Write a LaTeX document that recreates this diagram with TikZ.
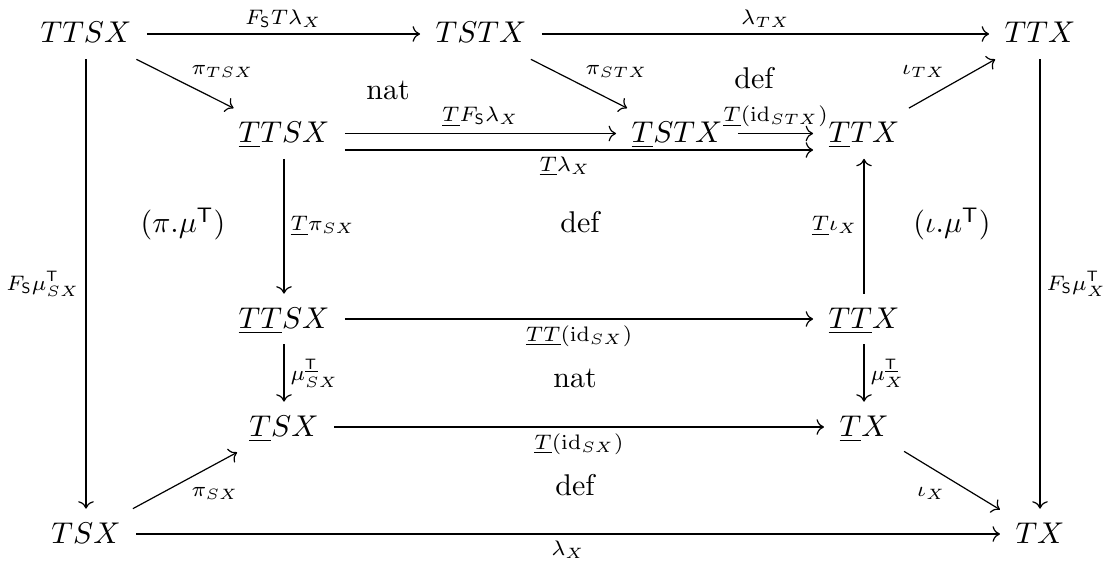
\documentclass[tikz,border=0pt]{standalone}
\usepackage{amsmath}
\usetikzlibrary{arrows.meta}
\begin{document}
\begin{tikzpicture}[x=0.33333pt,y=-0.33333pt,
  obj/.style={anchor=base,inner xsep=5pt,inner ysep=2.75pt,text height=8.5pt,text depth=2.5pt},
  ar/.style={draw,line width=0.4pt,-{Computer Modern Rightarrow}},
  lab/.style={inner sep=2pt},
  txt/.style={inner sep=0pt}
]
\useasboundingbox (0,0) rectangle (1116,568);
% objects
\node[obj] (TTSX) at (86,43) {$TTSX$};
\node[obj] (TSTX) at (481,43) {$TSTX$};
\node[obj] (TTX) at (1040,43) {$TTX$};
\node[obj] (uTTSX) at (284,142.5) {$\underline{T}TSX$};
\node[obj] (uTSTX) at (677,142.5) {$\underline{T}STX$};
\node[obj] (uTTX) at (864,142.5) {$\underline{T}TX$};
\node[obj] (uuTTSX) at (284,328) {$\underline{TT}SX$};
\node[obj] (uuTTX) at (864,328) {$\underline{TT}X$};
\node[obj] (uTSX) at (284,436) {$\underline{T}SX$};
\node[obj] (uTX) at (864,436) {$\underline{T}X$};
\node[obj] (TSX) at (86,543) {$TSX$};
\node[obj] (TX) at (1040,543) {$TX$};
% cell texts
\node[txt] (nat1) at (388,90) {nat};
\node[txt] (def1) at (754,78) {def};
\node[txt] (pimu) at (183,224) {$(\pi.\mu^{\mathsf{T}})$};
\node[txt] (def2) at (580,222) {def};
\node[txt] (iotamu) at (952,224) {$(\iota.\mu^{\mathsf{T}})$};
\node[txt] (nat2) at (575,378) {nat};
\node[txt] (def3) at (575,485) {def};
% arrows
\draw[ar] (TTSX) -- node[lab,above]{$\scriptstyle F_{\mathsf{S}}T\lambda_X$} (TSTX);
\draw[ar] (TSTX) -- node[lab,above]{$\scriptstyle \lambda_{TX}$} (TTX);
\draw[ar] (TTSX) -- node[lab,above right]{$\scriptstyle\pi_{TSX}$} (uTTSX);
\draw[ar] (TSTX) -- node[lab,above right]{$\scriptstyle\pi_{STX}$} (uTSTX);
\draw[ar] (uTTX) -- node[lab,above left]{$\scriptstyle\iota_{TX}$} (TTX);
\draw[ar] (uTTSX) -- node[lab,above]{$\scriptstyle\underline{T}F_{\mathsf{S}}\lambda_X$} (uTSTX);
\draw[ar] (uTSTX) -- node[lab,above]{$\scriptstyle\underline{T}(\mathrm{id}_{STX})$} (uTTX);
\draw[ar] ([yshift=-5.5pt]uTTSX.east) -- node[lab,below,pos=0.47]{$\scriptstyle\underline{T}\lambda_X$} ([yshift=-5.5pt]uTTX.west);
\draw[ar] (TTSX) -- node[lab,left]{$\scriptstyle F_{\mathsf{S}}\mu^{\mathsf{T}}_{SX}$} (TSX);
\draw[ar] (TTX) -- node[lab,right]{$\scriptstyle F_{\mathsf{S}}\mu^{\mathsf{T}}_X$} (TX);
\draw[ar] (uTTSX) -- node[lab,right]{$\scriptstyle\underline{T}\pi_{SX}$} (uuTTSX);
\draw[ar] (uuTTX) -- node[lab,left]{$\scriptstyle\underline{T}\iota_X$} (uTTX);
\draw[ar] (uuTTSX) -- node[lab,below]{$\scriptstyle\underline{TT}(\mathrm{id}_{SX})$} (uuTTX);
\draw[ar] (uuTTSX) -- node[lab,right]{$\scriptstyle\mu^{\underline{\mathsf{T}}}_{SX}$} (uTSX);
\draw[ar] (uuTTX) -- node[lab,right]{$\scriptstyle\mu^{\underline{\mathsf{T}}}_X$} (uTX);
\draw[ar] (uTSX) -- node[lab,below]{$\scriptstyle\underline{T}(\mathrm{id}_{SX})$} (uTX);
\draw[ar] (TSX) -- node[lab,below right]{$\scriptstyle\pi_{SX}$} (uTSX);
\draw[ar] (uTX) -- node[lab,below left]{$\scriptstyle\iota_X$} (TX);
\draw[ar] (TSX) -- node[lab,below]{$\scriptstyle\lambda_X$} (TX);
\end{tikzpicture}
\end{document}
